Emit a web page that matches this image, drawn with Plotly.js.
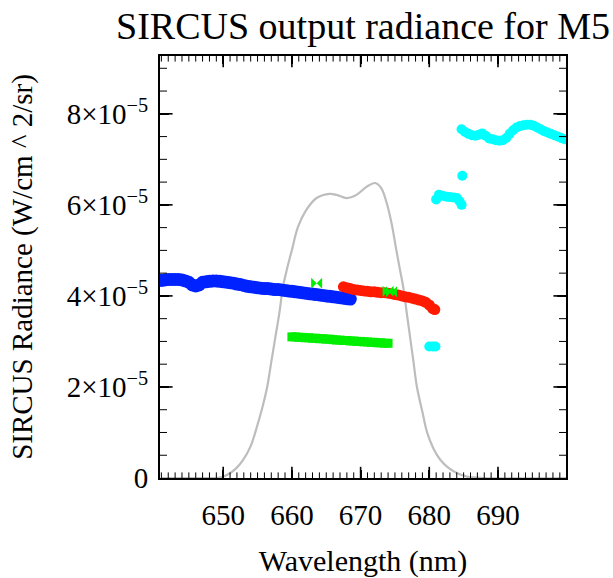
<!DOCTYPE html>
<html>
<head>
<meta charset="utf-8">
<script src="https://cdn.plot.ly/plotly-3.0.1.min.js"></script>
<style>html,body{margin:0;padding:0;background:#fff;}#chart{width:613px;height:578px;}</style>
</head>
<body>
<div id="chart"></div>
<script>
// Radiance values in units of 1e-5 W/cm^2/sr
const UNIT = 1e-5;

const filterWl  = [641, 645, 648, 649.6, 650.6, 651.8, 652.9, 654.0, 654.9, 655.7, 656.4, 657.0, 657.6, 658.2, 658.7, 659.3, 660.0, 660.9, 662.1, 663.6, 665.5, 666.5, 668.0, 669.4, 670.9, 672.1, 673.0, 673.8, 674.5, 675.2, 675.7, 676.2, 676.7, 677.2, 677.7, 678.2, 679.0, 679.7, 680.6, 681.6, 682.8, 684.0, 685.5, 688, 700];
const filterRad = [0, 0, 0, 0.01, 0.07, 0.2, 0.40, 0.70, 1.12, 1.55, 2.0, 2.55, 3.10, 3.65, 4.20, 4.60, 5.01, 5.52, 5.89, 6.15, 6.24, 6.22, 6.15, 6.22, 6.40, 6.48, 6.37, 6.04, 5.60, 5.01, 4.60, 4.20, 3.65, 3.10, 2.55, 2.0, 1.45, 0.99, 0.65, 0.40, 0.22, 0.11, 0.03, 0, 0];

const blueWl  = [641.0, 641.5, 642.0, 642.5, 643.0, 643.5, 644.0, 644.5, 645.0, 645.5, 646.0, 646.5, 647.0, 647.5, 648.0, 648.5, 649.0, 649.5, 650.0, 650.5, 651.0, 651.5, 652.0, 652.5, 653.0, 653.5, 654.0, 654.5, 655.0, 655.5, 656.0, 656.5, 657.0, 657.5, 658.0, 658.5, 659.0, 659.5, 660.0, 660.5, 661.0, 661.5, 662.0, 662.5, 663.0, 663.5, 664.0, 664.5, 665.0, 665.5, 666.0, 666.5, 667.0, 667.5, 668.0, 668.5];
const blueRad = [4.34, 4.35, 4.36, 4.36, 4.36, 4.36, 4.35, 4.33, 4.30, 4.24, 4.22, 4.24, 4.30, 4.31, 4.32, 4.33, 4.33, 4.32, 4.31, 4.30, 4.29, 4.28, 4.26, 4.25, 4.23, 4.21, 4.20, 4.19, 4.18, 4.17, 4.16, 4.16, 4.15, 4.14, 4.14, 4.13, 4.12, 4.11, 4.10, 4.09, 4.08, 4.07, 4.06, 4.05, 4.04, 4.03, 4.02, 4.01, 4.00, 3.99, 3.98, 3.97, 3.96, 3.95, 3.94, 3.93];

const redWl  = [667.5, 668.0, 668.5, 669.0, 669.5, 670.0, 670.5, 671.0, 671.5, 672.0, 672.5, 673.0, 673.5, 674.0, 674.5, 675.0, 675.5, 676.0, 676.5, 677.0, 677.5, 678.0, 678.5, 679.0, 679.5, 680.0, 680.5, 680.8];
const redRad = [4.20, 4.18, 4.16, 4.14, 4.13, 4.12, 4.11, 4.10, 4.09, 4.09, 4.08, 4.07, 4.07, 4.06, 4.05, 4.03, 4.02, 4.00, 3.98, 3.97, 3.95, 3.93, 3.91, 3.89, 3.86, 3.80, 3.72, 3.70];

const greenWl  = [660.0, 660.5, 661.0, 661.5, 662.0, 662.5, 663.0, 663.5, 664.0, 664.5, 665.0, 665.5, 666.0, 666.5, 667.0, 667.5, 668.0, 668.5, 669.0, 669.5, 670.0, 670.5, 671.0, 671.5, 672.0, 672.5, 673.0, 673.5, 674.0];
const greenRad = [3.10, 3.10, 3.09, 3.09, 3.08, 3.08, 3.07, 3.07, 3.06, 3.06, 3.05, 3.05, 3.04, 3.03, 3.03, 3.02, 3.02, 3.01, 3.01, 3.00, 3.00, 2.99, 2.99, 2.98, 2.98, 2.97, 2.97, 2.96, 2.96];

const greenMarkWl  = [663.6, 674.0, 674.5];
const greenMarkRad = [4.28, 4.10, 4.09];

const cyanWl  = [680.0, 680.5, 680.9,
                 681.0, 681.4, 681.9, 682.5, 683.0, 683.5, 684.0, 684.4, 684.7,
                 684.8,
                 684.7, 685.2, 685.7, 686.2, 686.7, 687.2, 687.7, 688.2, 688.7, 689.2, 689.7, 690.2, 690.7, 691.2, 691.7, 692.2, 692.7, 693.2, 693.7, 694.2, 694.7, 695.2, 695.7, 696.2, 696.7, 697.2, 697.7, 698.2, 698.7, 699.2, 699.7];
const cyanRad = [2.89, 2.89, 2.89,
                 6.12, 6.22, 6.20, 6.18, 6.17, 6.16, 6.15, 6.08, 6.00,
                 6.64,
                 7.66, 7.60, 7.56, 7.53, 7.52, 7.54, 7.57, 7.52, 7.46, 7.44, 7.42, 7.41, 7.42, 7.47, 7.56, 7.64, 7.70, 7.73, 7.75, 7.76, 7.76, 7.74, 7.70, 7.66, 7.62, 7.59, 7.56, 7.53, 7.50, 7.47, 7.44];

// Axis ranges and tick values
const X_RANGE = [640.8, 699.9];
const Y_RANGE = [0, 9.27];
const xMajorTicks = [650, 660, 670, 680, 690];
const xMinorTicks = [641, 642, 643, 644, 645, 646, 647, 648, 649, 651, 652, 653, 654, 655, 656, 657, 658, 659, 661, 662, 663, 664, 665, 666, 667, 668, 669, 671, 672, 673, 674, 675, 676, 677, 678, 679, 681, 682, 683, 684, 685, 686, 687, 688, 689, 691, 692, 693, 694, 695, 696, 697, 698, 699];
const yMajorTicks = [2, 4, 6, 8];
const yMinorTicks = [0.5, 1, 1.5, 2.5, 3, 3.5, 4.5, 5, 5.5, 6.5, 7, 7.5, 8.5, 9];

const sc = a => a.map(v => v * UNIT);
const FONT = "Liberation Serif";

// Inside tick marks along the frame (half of each mark is clipped by the plot area)
function xTickTrace(vals, len, w) {
  return {x: vals.concat(vals), y: vals.map(() => Y_RANGE[0] * UNIT).concat(vals.map(() => Y_RANGE[1] * UNIT)),
          mode: 'markers', hoverinfo: 'skip',
          marker: {symbol: 'line-ns', size: 2 * len, color: '#000', line: {color: '#000', width: w}}};
}
function yTickTrace(vals, len, w) {
  return {x: vals.map(() => X_RANGE[0]).concat(vals.map(() => X_RANGE[1])), y: sc(vals).concat(sc(vals)),
          mode: 'markers', hoverinfo: 'skip',
          marker: {symbol: 'line-ew', size: 2 * len, color: '#000', line: {color: '#000', width: w}}};
}

const traces = [
  {x: filterWl, y: sc(filterRad), mode: 'lines', line: {color: '#bdbdbd', width: 2.2, shape: 'spline'}, hoverinfo: 'skip'},
  {x: blueWl, y: sc(blueRad), mode: 'markers', marker: {color: '#0022ff', size: 13, line: {width: 0}}},
  {x: redWl, y: sc(redRad), mode: 'markers', marker: {color: '#ff1a00', size: 11, line: {width: 0}}},
  {x: greenWl, y: sc(greenRad), mode: 'markers', marker: {color: '#00ee00', size: 9, symbol: 'square', line: {width: 0}}},
  {x: greenMarkWl, y: sc(greenMarkRad), mode: 'markers', marker: {color: '#00ee00', size: 11, symbol: 'bowtie', line: {width: 0}}},
  {x: cyanWl, y: sc(cyanRad), mode: 'markers', marker: {color: '#00ffff', size: 10, line: {width: 0}}},
  xTickTrace(xMajorTicks, 8, 1.6),
  xTickTrace(xMinorTicks, 4, 1),
  yTickTrace(yMajorTicks, 9, 1.6),
  yTickTrace(yMinorTicks, 5, 1)
];

const layout = {
  width: 613, height: 578,
  margin: {l: 160, r: 47, t: 56, b: 100},
  paper_bgcolor: '#fff', plot_bgcolor: '#fff',
  showlegend: false,
  font: {family: FONT, color: '#000', size: 28},
  title: {text: 'SIRCUS output radiance for M5', font: {family: FONT, size: 38, color: '#000'},
          x: 0.5, xref: 'paper', xanchor: 'center', y: 0.955, yref: 'container', yanchor: 'middle'},
  xaxis: {
    range: X_RANGE, tickmode: 'array', tickvals: xMajorTicks, ticktext: xMajorTicks.map(String),
    ticks: 'inside', ticklen: 8, tickwidth: 1.6, tickcolor: '#000',
    showline: true, linecolor: '#000', linewidth: 2, mirror: 'ticks',
    showgrid: false, zeroline: false,
    tickfont: {family: FONT, size: 29},
    ticklabelstandoff: 10,
    title: {text: 'Wavelength (nm)', font: {family: FONT, size: 30}, standoff: 21}
  },
  yaxis: {
    range: sc(Y_RANGE), tickmode: 'linear', tick0: 0, dtick: 2e-5,
    exponentformat: 'power', showexponent: 'all',
    ticks: 'inside', ticklen: 9, tickwidth: 1.6, tickcolor: '#000',
    showline: true, linecolor: '#000', linewidth: 2, mirror: 'ticks',
    showgrid: false, zeroline: false,
    tickfont: {family: FONT, size: 29},
    ticklabelstandoff: 4,
    title: {text: 'SIRCUS Radiance (W/cm ^ 2/sr)', font: {family: FONT, size: 29}, standoff: 26}
  }
};

Plotly.newPlot('chart', traces, layout, {displayModeBar: false});
</script>
</body>
</html>
